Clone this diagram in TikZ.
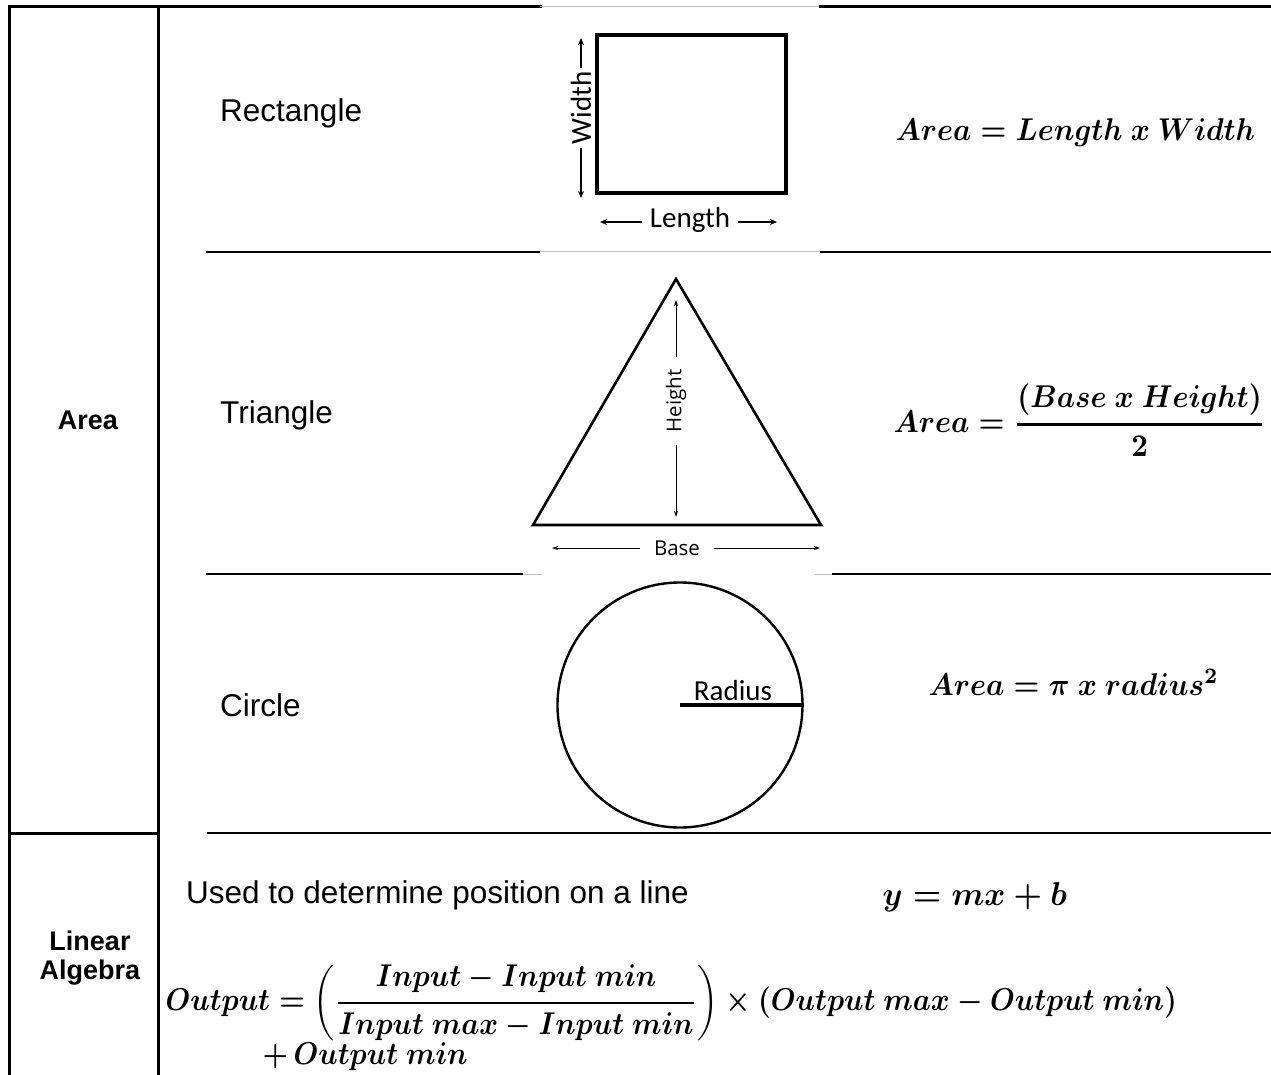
\documentclass[tikz,border=0pt]{standalone}
\usepackage{amsmath}
\usepackage[no-math]{fontspec}
\setmainfont{Liberation Sans}
\newfontfamily\calibfont{Carlito}
\newfontfamily\opensansfont{Open Sans}
\usetikzlibrary{arrows.meta}

\tikzset{
  tablerule/.style={line width=3pt, line cap=rect},
  rowrule/.style={line width=2.6pt},
  faint/.style={line width=0.8pt, black!25},
  bodytext/.style={font=\fontsize{31.5}{36}\selectfont, inner sep=0pt},
  labeltext/.style={font=\fontsize{27}{31}\selectfont\bfseries, inner sep=0pt},
  % formulas are set at 10pt and enlarged as a whole
  formula/.style={font=\fontsize{10}{12}\selectfont\boldmath, inner sep=0pt, xscale=2.9, yscale=3.15},
  dimlabel/.style={font=\calibfont\fontsize{29}{34}\selectfont, inner ysep=0pt},
  trilabel/.style={font=\opensansfont\fontsize{20.5}{24}\selectfont, inner ysep=0pt},
  dimarrow/.style={line width=1.6pt, -{Stealth[length=7pt,width=6pt]}},
  thinarrow/.style={line width=0.9pt, -{Stealth[length=6pt,width=4pt]}},
}
\newcommand{\thickfrac}[2]{\genfrac{}{}{0.9pt}{0}{#1}{#2}}

\begin{document}
\begin{tikzpicture}[x=1pt,y=-1pt]
\useasboundingbox (0,0) rectangle (1271,1075);

% ---- table frame ----
\draw[tablerule] (9,7) -- (540,7);
\draw[faint] (540,6) -- (820,6);
\draw[tablerule] (820,7) -- (1271,7);
\draw[tablerule] (9,7) -- (9,1075);
\draw[tablerule] (158,7) -- (158,1075);

% rules between the shape rows
\draw[rowrule] (206,252) -- (540,252);
\draw[faint] (540,251) -- (820,251);
\draw[rowrule] (820,252) -- (1271,252);
\draw[rowrule] (206,574) -- (523,574);
\draw[faint] (523,574) -- (542,574);
\draw[faint] (815,574) -- (832,574);
\draw[rowrule] (832,574) -- (1271,574);
\draw[tablerule] (9,833) -- (158,833);
\draw[rowrule] (207,833) -- (1271,833);

% ---- left column labels ----
\node (area) [labeltext] at (88,420) {Area};
\node (linear) [labeltext] at (90,941) {Linear};
\node (algebra) [labeltext] at (90,973) {Algebra};

% ---- row names ----
\node (rectname) [bodytext, anchor=west] at (220,113) {Rectangle};
\node (triname) [bodytext, anchor=west] at (220,415) {Triangle};
\node (circname) [bodytext, anchor=west] at (220,705) {Circle};

% ---- rectangle ----
\node (rect) [draw, line width=3.5pt, minimum width=189pt, minimum height=158pt, inner sep=0pt] at (691.5,114) {};
\node (wlab) [dimlabel, rotate=90, inner xsep=3pt] at (581,108) {Width};
\coordinate (wtop) at (581,38);
\coordinate (wbot) at (581,198);
\draw[dimarrow] (wlab) -- (wtop);
\draw[dimarrow] (wlab) -- (wbot);
\node (llab) [dimlabel, inner xsep=8pt] at (690,220) {Length};
\coordinate (lleft) at (600,222);
\coordinate (lright) at (777,222);
\draw[dimarrow] (llab.west |- lleft) -- (lleft);
\draw[dimarrow] (llab.east |- lright) -- (lright);

% ---- triangle ----
\coordinate (tl) at (533,525);
\coordinate (tt) at (676,279);
\coordinate (tr) at (821,525);
\draw[line width=2.6pt, line join=miter] (tl) -- (tt) -- (tr) -- cycle;
\node (hlab) [trilabel, rotate=90, inner xsep=12pt] at (676,401) {Height};
\coordinate (htop) at (676,300);
\coordinate (hbot) at (676,517);
\draw[thinarrow] (hlab) -- (htop);
\draw[thinarrow] (hlab) -- (hbot);
\node (blab) [trilabel, inner xsep=14pt] at (677,548) {Base};
\coordinate (bleft) at (552,548);
\coordinate (bright) at (820,548);
\draw[thinarrow] (blab) -- (bleft);
\draw[thinarrow] (blab) -- (bright);

% ---- circle ----
\node (circ) [circle, draw, line width=2.4pt, minimum size=245pt, inner sep=0pt] at (680,705) {};
\draw[line width=3.5pt] (circ.center) -- (circ.east);
\node (rlab) [dimlabel, anchor=base] at (733,700) {Radius};

% ---- area formulas ----
\node (frect) [formula, anchor=base west] at (895,141)
  {$Area = Length\ x\ Width$};
\node (ftri) [formula, anchor=west] at (893,420)
  {$\displaystyle Area = \thickfrac{(Base\ x\ Height)}{2}$};
\node (fcirc) [formula, anchor=base west] at (928,695)
  {$Area = \pi\ x\ radius^{2}$};

% ---- linear algebra ----
\node (linetext) [bodytext, anchor=west] at (186,895) {Used to determine position on a line};
\node (fline) [formula, anchor=base west, xscale=1.1, yscale=1.05] at (882,905) {$y = mx + b$};
\node (fmap) [formula, anchor=west, xscale=0.985] at (165,1003)
  {$\displaystyle Output = \left(\thickfrac{Input - Input\ min}{Input\ max - Input\ min}\right) \times (Output\ max - Output\ min)$};
\node (fmaprest) [formula, anchor=base west, xscale=0.985] at (262,1064) {$+\,Output\ min$};
\end{tikzpicture}
\end{document}
